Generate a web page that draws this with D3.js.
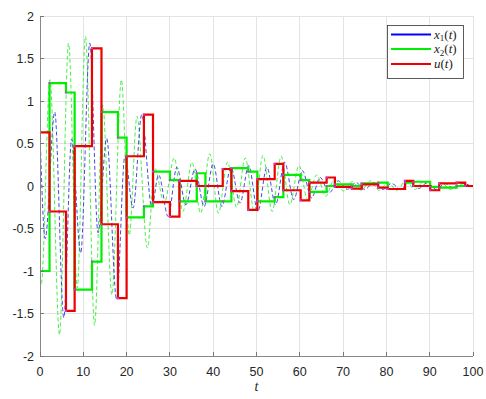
<!DOCTYPE html>
<html><head><meta charset="utf-8">
<script src="https://cdn.jsdelivr.net/npm/d3@7"></script>
<style>
html,body{margin:0;padding:0;background:#fff;}
svg{display:block;}
</style></head>
<body>
<svg id="chart" width="486" height="399"></svg>
<script>
// ---------- data ----------
const xTicks = [0,10,20,30,40,50,60,70,80,90,100];
const yTicks = [-2,-1.5,-1,-0.5,0,0.5,1,1.5,2];
const yTickLabels = ["-2","-1.5","-1","-0.5","0","0.5","1","1.5","2"];
const legendLabels = ["x1(t)","x2(t)","u(t)"];

// sampling instants
const tSwitch = [0,2.2,6,8,12,14.2,18,20,24,26.1,30,32.2,36.2,38.2,42.2,44.2,48.1,50.2,54.2,56.2,60.2,62.2,66.2,68.1,72,74.3,78.1,80.3,84.3,86.2,90.1,92.2,96.2,98.2];
// held control u(t)
const uHeld = [0.63,-0.30,-1.47,0.47,1.62,-0.45,-1.32,0.35,0.84,-0.19,-0.36,0.06,0.0,0.0,0.2,-0.06,-0.28,0.08,0.26,-0.05,-0.17,0.04,0.1,-0.01,-0.03,0.02,-0.02,-0.035,0.06,0.0,-0.05,0.03,0.04,0.0];
// held x2 samples
const x2Held = [-1.0,1.21,1.10,-1.22,-0.89,0.87,0.57,-0.37,-0.24,0.17,0.07,-0.18,0.15,-0.18,-0.18,0.21,0.17,-0.18,-0.13,0.13,0.07,-0.07,0.0,0.02,0.0,0.03,0.04,-0.035,0.04,0.05,-0.01,-0.02,0.0,0.0];

// continuous x1(t) (turning points)
const x1T = [0,1.2,3.4,5.5,7.3,9.4,11.5,13.4,15.4,17.7,19.6,21.5,23.5,25.8,27.4,29.6,31.6,33.7,35.8,37.9,40.0,42.0,44.1,46.2,48.2,50.3,52.4,54.4,56.5,58.6,60.6,62.7,64.7,66.8,68.9,70.9,73.0,75.0,77.1,79.2,81.2,83.3,85.3,87.4,89.5,91.5,93.6,95.6,97.7,99.5];
const x1V = [0.63,-0.62,0.87,-1.55,0.55,-0.79,1.68,-0.55,0.56,-1.34,0.35,-0.26,0.84,-0.24,0.13,-0.36,0.22,-0.22,0.2,-0.24,0.26,-0.24,0.22,-0.2,0.24,-0.3,0.22,-0.22,0.28,-0.16,0.18,-0.14,0.1,-0.08,0.06,-0.04,0.04,-0.04,0.04,-0.04,0.03,-0.04,0.05,-0.03,0.04,-0.04,0.03,-0.03,0.03,0.0];
// continuous x2(t)
const x2T = [0,0.3,2.3,4.5,6.6,8.6,10.5,12.6,14.5,16.6,18.8,20.6,22.4,24.8,26.5,28.7,31.0,33.0,35.1,37.1,39.2,41.2,43.3,45.4,47.4,49.5,51.5,53.6,55.7,57.7,59.8,61.8,63.9,66.0,68.0,70.1,72.1,74.2,76.3,78.3,80.4,82.4,84.5,86.6,88.6,90.7,92.7,94.8,96.9,99.0];
const x2V = [-1.0,-1.15,1.25,-1.75,1.68,-1.2,1.76,-1.64,0.95,-1.28,1.25,-0.58,0.82,-0.73,0.21,-0.2,0.33,-0.3,0.28,-0.32,0.38,-0.32,0.28,-0.25,0.33,-0.3,0.36,-0.3,0.35,-0.22,0.24,-0.16,0.13,-0.12,0.08,-0.06,0.05,-0.05,0.06,-0.05,0.04,-0.05,0.06,-0.04,0.05,-0.04,0.04,-0.04,0.03,0.0];

// ---------- layout ----------
const L = 40, R = 473, T = 16, B = 356;
const svg = d3.select("#chart");
const x = d3.scaleLinear().domain([0,100]).range([L,R]);
const y = d3.scaleLinear().domain([-2,2]).range([B,T]);

// grid
const grid = svg.append("g");
grid.selectAll("line.vx").data(xTicks).join("line")
  .attr("x1",d=>x(d)).attr("x2",d=>x(d)).attr("y1",T).attr("y2",B)
  .attr("stroke","#e3e3e3").attr("stroke-width",1).attr("shape-rendering","crispEdges");
grid.selectAll("line.hy").data(yTicks).join("line")
  .attr("y1",d=>y(d)).attr("y2",d=>y(d)).attr("x1",L).attr("x2",R)
  .attr("stroke","#e3e3e3").attr("stroke-width",1).attr("shape-rendering","crispEdges");

// clip
svg.append("clipPath").attr("id","clip").append("rect")
  .attr("x",L).attr("y",T-2).attr("width",R-L+2).attr("height",B-T+4);
const plot = svg.append("g").attr("clip-path","url(#clip)");

const lineC = d3.line().x(d=>x(d[0])).y(d=>y(d[1])).curve(d3.curveMonotoneX);
const lineS = d3.line().x(d=>x(d[0])).y(d=>y(d[1])).curve(d3.curveStepAfter);

const x1Pts = x1T.map((t,i)=>[t,x1V[i]]);
const x2Pts = x2T.map((t,i)=>[t,x2V[i]]);
const x2Step = tSwitch.map((t,i)=>[t,x2Held[i]]).concat([[100,x2Held[x2Held.length-1]]]);
const uStep = tSwitch.map((t,i)=>[t,uHeld[i]]).concat([[100,uHeld[uHeld.length-1]]]);

plot.append("path").datum(x2Pts).attr("d",lineC).attr("fill","none")
  .attr("stroke","#33ee33").attr("stroke-width",0.9).attr("stroke-dasharray","4,2.5");
plot.append("path").datum(x1Pts).attr("d",lineC).attr("fill","none")
  .attr("stroke","#3333dd").attr("stroke-width",0.9).attr("stroke-dasharray","4,2.5");
plot.append("path").datum(x2Step).attr("d",lineS).attr("fill","none")
  .attr("stroke","#00ee00").attr("stroke-width",2.2);
plot.append("path").datum(uStep).attr("d",lineS).attr("fill","none")
  .attr("stroke","#ee0000").attr("stroke-width",2.2);

// sample markers
const dots = tSwitch.map((t,i)=>[t,x2Held[i]]).concat(tSwitch.map((t,i)=>[t,uHeld[i]]));
plot.selectAll("circle.s").data(dots).join("circle")
  .attr("cx",d=>x(d[0])).attr("cy",d=>y(d[1])).attr("r",1.1).attr("fill","#c040e0");

// axes lines
svg.append("line").attr("x1",L).attr("x2",L).attr("y1",T).attr("y2",B)
  .attr("stroke","#888").attr("stroke-width",1).attr("shape-rendering","crispEdges");
svg.append("line").attr("x1",L).attr("x2",R).attr("y1",B).attr("y2",B)
  .attr("stroke","#888").attr("stroke-width",1).attr("shape-rendering","crispEdges");

// ticks (inward)
svg.selectAll("line.xt").data(xTicks).join("line")
  .attr("x1",d=>x(d)).attr("x2",d=>x(d)).attr("y1",B).attr("y2",B-4)
  .attr("stroke","#777").attr("shape-rendering","crispEdges");
svg.selectAll("line.yt").data(yTicks).join("line")
  .attr("y1",d=>y(d)).attr("y2",d=>y(d)).attr("x1",L).attr("x2",L+4)
  .attr("stroke","#777").attr("shape-rendering","crispEdges");

// tick labels
const font = "'Liberation Sans', Arial, sans-serif";
svg.selectAll("text.xl").data(xTicks).join("text")
  .attr("x",d=>x(d)).attr("y",376).attr("text-anchor","middle")
  .attr("font-family",font).attr("font-size",12.5).attr("fill","#262626").text(d=>d);
svg.selectAll("text.yl").data(yTicks).join("text")
  .attr("x",34).attr("y",d=>y(d)+4.5).attr("text-anchor","end")
  .attr("font-family",font).attr("font-size",12.5).attr("fill","#262626")
  .text((d,i)=>yTickLabels[i]);

// x label
svg.append("text").attr("x",x(50)).attr("y",391).attr("text-anchor","middle")
  .attr("font-family","'Liberation Serif', 'DejaVu Serif', serif").attr("font-style","italic")
  .attr("font-size",14).attr("fill","#262626").text("t");

// legend
const lg = svg.append("g");
lg.append("rect").attr("x",387.5).attr("y",25.5).attr("width",76).attr("height",53)
  .attr("fill","#fff").attr("stroke","#333").attr("stroke-width",0.8);
const lgColors = ["#0000ff","#00ee00","#ee0000"];
const lgY = [34.5,49,64];
lgColors.forEach((c,i)=>{
  lg.append("line").attr("x1",391).attr("x2",431).attr("y1",lgY[i]).attr("y2",lgY[i])
    .attr("stroke",c).attr("stroke-width",2.2);
  const tx = lg.append("text").attr("x",434).attr("y",lgY[i]+4)
    .attr("font-family","'Liberation Serif', 'DejaVu Serif', serif")
    .attr("font-size",13).attr("fill","#222");
  const lab = legendLabels[i];
  if (lab[0]==="x") {
    tx.append("tspan").attr("font-style","italic").text("x");
    tx.append("tspan").attr("font-size",9).attr("dy",2.5).text(lab[1]);
    tx.append("tspan").attr("dy",-2.5).text("(");
    tx.append("tspan").attr("font-style","italic").text("t");
    tx.append("tspan").text(")");
  } else {
    tx.append("tspan").attr("font-style","italic").text("u");
    tx.append("tspan").text("(");
    tx.append("tspan").attr("font-style","italic").text("t");
    tx.append("tspan").text(")");
  }
});
</script>
</body></html>
